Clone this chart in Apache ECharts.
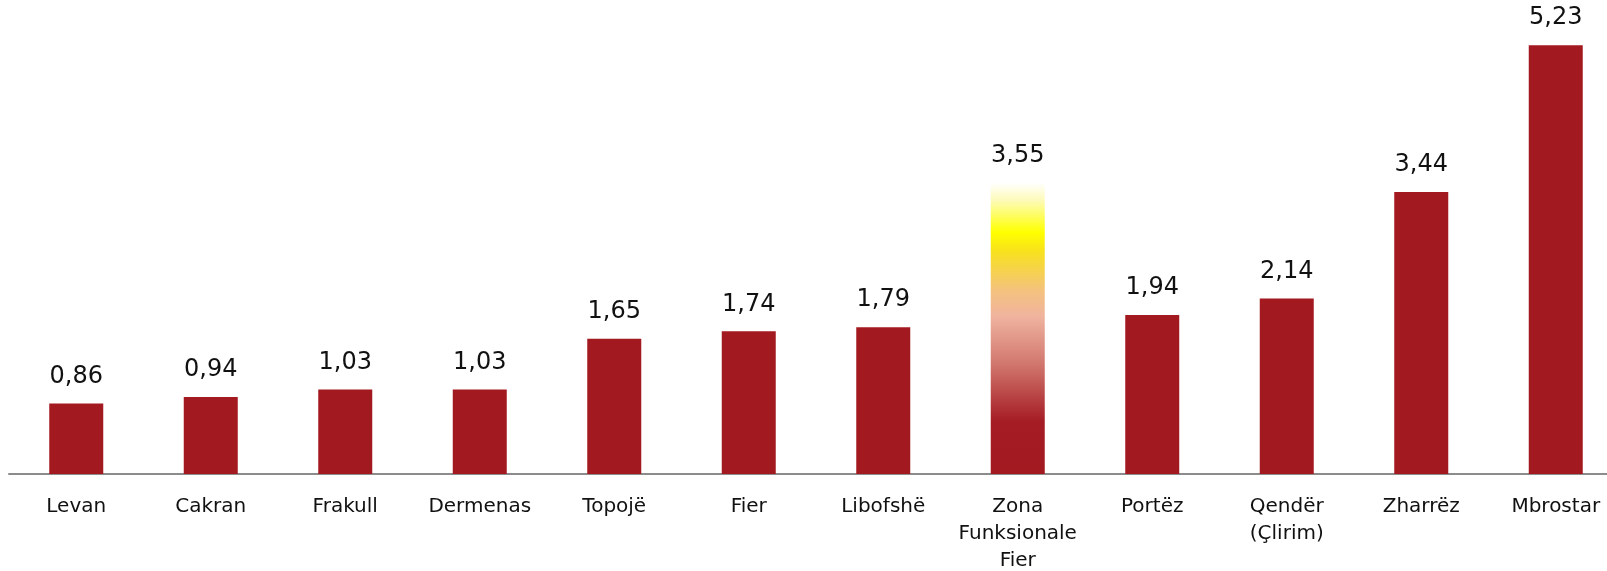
<!DOCTYPE html>
<html><head><meta charset="utf-8">
<script src="https://cdn.jsdelivr.net/npm/echarts@6/dist/echarts.min.js"></script>
<style>html,body{margin:0;padding:0;background:#fff}#c{width:1607px;height:571px}</style>
</head><body><div id="c"></div>
<script>
const categories = ["Levan","Cakran","Frakull","Dermenas","Topojë","Fier","Libofshë","Zona\nFunksionale\nFier","Portëz","Qendër\n(Çlirim)","Zharrëz","Mbrostar"];
const values = [0.86,0.94,1.03,1.03,1.65,1.74,1.79,3.55,1.94,2.14,3.44,5.23];
const highlightIndex = 7;

const red = '#a31920';
const gradient = new echarts.graphic.LinearGradient(0,0,0,1,[
  {offset:0, color:'rgba(255,255,255,1)'},
  {offset:0.06, color:'#fdfbb8'},
  {offset:0.17, color:'#ffff00'},
  {offset:0.23, color:'#f8e31a'},
  {offset:0.37, color:'#f4c27e'},
  {offset:0.46, color:'#efb39e'},
  {offset:0.62, color:'#d2786e'},
  {offset:0.82, color:'#a51c24'},
  {offset:1, color:'#a31920'}
]);

const chart = echarts.init(document.getElementById('c'), null, {renderer:'canvas'});
chart.setOption({
  animation:false,
  grid:{left:9, width:1614, top:23, bottom:97, containLabel:false, outerBoundsMode:'none'},
  xAxis:{type:'category', data:categories,
    axisLine:{show:true, lineStyle:{color:'#8c8c8c', width:2}},
    axisTick:{show:false},
    axisLabel:{interval:0, margin:19, color:'#111', fontFamily:'DejaVu Sans', fontSize:20, lineHeight:27}
  },
  yAxis:{type:'value', min:0, max:5.5, show:false, splitLine:{show:false}},
  series:[{
    type:'bar', barWidth:54,
    data: values.map((v,i)=>({value:v, itemStyle:{color: i===highlightIndex ? gradient : red}})),
    label:{show:true, position:'top', distance:15, color:'#111', fontFamily:'DejaVu Sans', fontSize:24,
      formatter:p=>p.value.toFixed(2).replace('.',',')}
  }]
});
</script></body></html>
